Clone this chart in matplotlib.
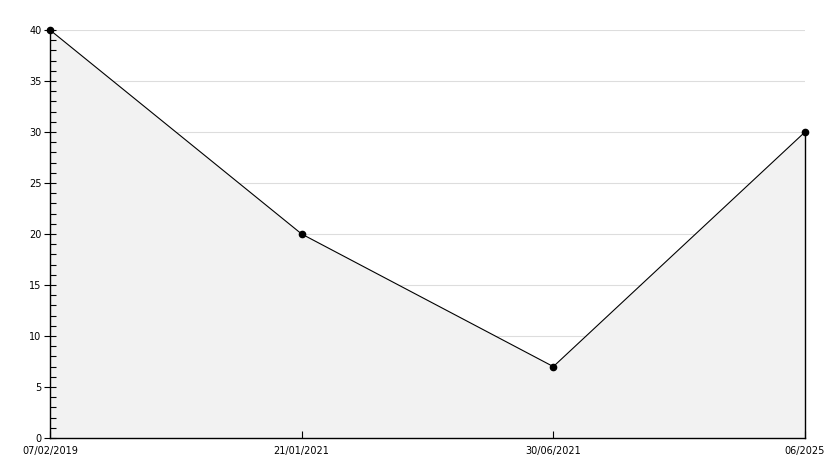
import matplotlib
matplotlib.use("Agg")
import matplotlib.pyplot as plt
from matplotlib.ticker import MultipleLocator

categories = ["07/02/2019", "21/01/2021", "30/06/2021", "06/2025"]
values = [40, 20, 7, 30]

fig = plt.figure(figsize=(8.34, 4.68), dpi=100)
ax = fig.add_axes([50/834, 30/468, 755/834, 408/468])

x = list(range(len(categories)))
ax.fill_between(x, values, 0, color="#f2f2f2", zorder=1, linewidth=0)
ax.plot(x, values, color="black", linewidth=0.8, zorder=3,
        marker="o", markersize=4.5, markerfacecolor="black", clip_on=False)
ax.plot([x[-1], x[-1]], [0, values[-1]], color="black", linewidth=1.0, zorder=3,
        clip_on=False)

ax.set_xlim(0, len(categories) - 1)
ax.set_ylim(0, 40)
ax.set_xticks(x)
ax.set_xticklabels(categories)
ax.yaxis.set_major_locator(MultipleLocator(5))
ax.yaxis.set_minor_locator(MultipleLocator(1))
for yv in ax.get_yticks():
    if 0 < yv <= 40:
        ax.axhline(yv, color="#dddddd", linewidth=0.8, zorder=0)

for s in ["top", "right"]:
    ax.spines[s].set_visible(False)
for s in ["left", "bottom"]:
    ax.spines[s].set_linewidth(1.0)
    ax.spines[s].set_zorder(4)

ax.tick_params(axis="x", which="major", direction="in", length=5, labelsize=7, pad=6)
ax.tick_params(axis="x", which="minor", bottom=False)
ax.tick_params(axis="y", which="major", direction="inout", length=8, labelsize=7, pad=2)
ax.tick_params(axis="y", which="minor", left=True, direction="in", length=4, width=0.8)

fig.savefig("out.png", dpi=100)
